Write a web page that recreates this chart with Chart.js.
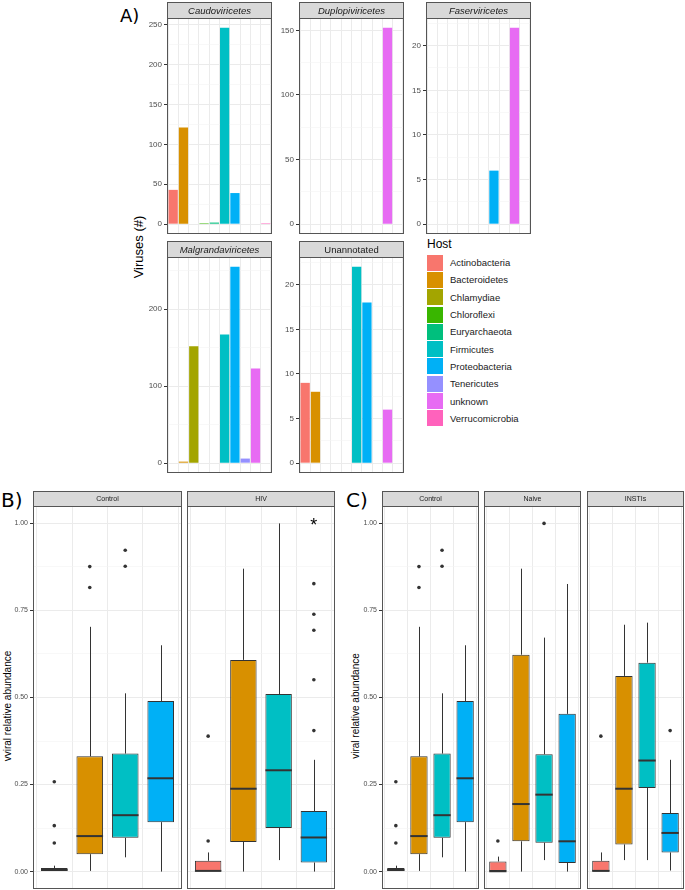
<!DOCTYPE html>
<html>
<head>
<meta charset="utf-8">
<script src="https://cdn.jsdelivr.net/npm/chart.js@4.4.1/dist/chart.umd.min.js"></script>
<style>
  body { margin: 0; background: #fff; width: 685px; height: 890px; position: relative; overflow: hidden;
         font-family: "Liberation Sans", Arial, sans-serif; }
  .tag { position: absolute; font-family: "DejaVu Sans", sans-serif; color: #000; line-height: 1; }
  .ytitle { position: absolute; transform: translate(-50%, -50%) rotate(-90deg); white-space: nowrap; color: #000; }
  #legend { position: absolute; left: 427px; top: 237px; color: #1A1A1A; }
  #legend .ttl { font-size: 12px; margin-bottom: 3px; color: #000; }
  #legend .row { display: flex; align-items: center; height: 17.3px; font-size: 9.5px; }
  #legend .key { width: 16px; height: 16px; margin-right: 7px; }
</style>
</head>
<body>

<div class="tag" style="left:120px;top:7px;font-size:18px;">A)</div>
<div class="tag" style="left:1px;top:490px;font-size:20px;">B)</div>
<div class="tag" style="left:346px;top:490px;font-size:20px;">C)</div>
<div class="ytitle" style="left:138px;top:247px;font-size:13px;">Viruses (#)</div>
<div class="ytitle" style="left:7px;top:706px;font-size:10px;">vviral relative abundance</div>
<div class="ytitle" style="left:355px;top:706px;font-size:10px;">viral relative abundance</div>
<div id="legend"><div class="ttl">Host</div></div>

<script>
// ---- panel A: number of viruses per predicted host, one array per viral class ----
const hosts = ['Actinobacteria', 'Bacteroidetes', 'Chlamydiae', 'Chloroflexi', 'Euryarchaeota',
               'Firmicutes', 'Proteobacteria', 'Tenericutes', 'unknown', 'Verrucomicrobia'];
const hostColors = ['#F8766D', '#D89000', '#A3A500', '#39B600', '#00BF7D',
                    '#00BFC4', '#00B0F6', '#9590FF', '#E76BF3', '#FF62BC'];

const caudoviricetes     = [43, 121, null, 1, 2, 246, 39, null, null, 1];
const duplopiviricetes   = [null, null, null, null, null, null, null, null, 152, null];
const faserviricetes     = [null, null, null, null, null, null, 6, null, 22, null];
const malgrandaviricetes = [null, 2, 152, null, null, 167, 255, 6, 123, null];
const unannotated        = [9, 8, null, null, null, 22, 18, null, 6, null];

const caudoTicks = [0, 50, 100, 150, 200, 250];
const duploTicks = [0, 50, 100, 150];
const faserTicks = [0, 5, 10, 15, 20];
const malgrTicks = [0, 100, 200];
const unannTicks = [0, 5, 10, 15, 20];

// ---- panels B/C: viral relative abundance boxplots ----
// each box: [lower whisker, q1, median, q3, upper whisker]
const boxHosts  = ['Actinobacteria', 'Bacteroidetes', 'Firmicutes', 'Proteobacteria'];
const boxColors = ['#F8766D', '#D89000', '#00BFC4', '#00B0F6'];

const controlBoxes    = [[0, 0, 0.005, 0.01, 0.017], [0.002, 0.05, 0.102, 0.331, 0.703],
                         [0.041, 0.097, 0.162, 0.339, 0.512], [0, 0.142, 0.268, 0.49, 0.65]];
const controlOutliers = [[0.258, 0.132, 0.082], [0.876, 0.816], [0.923, 0.877], []];

const hivBoxes    = [[0, 0, 0.002, 0.031, 0.055], [0, 0.085, 0.238, 0.608, 0.87],
                     [0.033, 0.125, 0.291, 0.51, 1.0], [0, 0.026, 0.098, 0.174, 0.321]];
const hivOutliers = [[0.088, 0.389], [], [], [0.827, 0.739, 0.693, 0.551, 0.405]];

const naiveBoxes    = [[0, 0, 0.001, 0.029, 0.043], [0, 0.087, 0.194, 0.623, 0.87],
                       [0.033, 0.083, 0.221, 0.337, 0.672], [0, 0.025, 0.087, 0.453, 0.826]];
const naiveOutliers = [[0.088], [], [1.0], []];

const instiBoxes    = [[0, 0, 0.002, 0.031, 0.055], [0.033, 0.078, 0.238, 0.562, 0.709],
                       [0.033, 0.24, 0.319, 0.6, 0.715], [0.003, 0.055, 0.111, 0.168, 0.321]];
const instiOutliers = [[0.389], [], [], [0.405]];

const abundanceTicks = [0, 0.25, 0.5, 0.75, 1];
const hivSignificant = ['Proteobacteria'];   // marked with *

Chart.defaults.font.family = '"Liberation Sans", Arial, sans-serif';
Chart.defaults.animation = false;
Chart.defaults.events = [];
Chart.defaults.plugins.legend.display = false;
Chart.defaults.plugins.tooltip.enabled = false;

// legend
const legend = document.getElementById('legend');
hosts.forEach((h, i) => {
  const r = document.createElement('div');
  r.className = 'row';
  r.innerHTML = '<div class="key" style="background:' + hostColors[i] + '"></div><span>' + h + '</span>';
  legend.appendChild(r);
});

// scales report label overhang as padding, which shrinks the plot area; drop it
function noPad(s) {
  s.paddingTop = 0; s.paddingBottom = 0; s.paddingLeft = 0; s.paddingRight = 0;
}

function yScale(major, lo, hi, axisW, size, fmt) {
  const step = major[1] - major[0];
  const all = major.slice();
  for (let i = 0; i < major.length - 1; i++) all.push((major[i] + major[i + 1]) / 2);
  if (major[major.length - 1] + step / 2 <= hi) all.push(major[major.length - 1] + step / 2);
  if (major[0] - step / 2 >= lo) all.push(major[0] - step / 2);
  all.sort((a, b) => a - b);
  const isMajor = v => major.some(m => Math.abs(m - v) < 1e-9);
  return {
    type: 'linear', min: lo, max: hi,
    afterBuildTicks: s => { s.ticks = all.map(v => ({ value: v })); },
    afterFit: s => { s.width = axisW; noPad(s); },
    border: { display: false },
    grid: {
      color: c => isMajor(c.tick.value) ? '#EBEBEB' : '#F4F4F4',
      lineWidth: c => isMajor(c.tick.value) ? 1 : 0.6,
      tickColor: c => isMajor(c.tick.value) ? '#333' : 'rgba(0,0,0,0)',
      tickLength: 3,
      drawTicks: axisW > 0
    },
    ticks: {
      display: axisW > 0, autoSkip: false, padding: 2, color: '#4D4D4D', font: { size: size },
      callback: v => isMajor(v) ? fmt(v) : ''
    }
  };
}

function xScale(n) {
  return {
    type: 'linear', min: 0.4, max: n + 0.6, offset: false,
    afterBuildTicks: s => { s.ticks = Array.from({ length: n }, (_, i) => ({ value: i + 1 })); },
    afterFit: s => { s.height = 0; noPad(s); },
    border: { display: false },
    grid: { color: '#EBEBEB', lineWidth: 1, drawTicks: false },
    ticks: { display: false }
  };
}

function facetPlugin(title, italic, size) {
  return {
    id: 'facet',
    afterDraw(chart) {
      const { ctx, chartArea: a } = chart;
      ctx.save();
      ctx.strokeStyle = '#555';
      ctx.lineWidth = 1;
      ctx.strokeRect(a.left + 0.5, a.top + 0.5, a.right - a.left - 1, a.bottom - a.top - 1);
      ctx.fillStyle = '#D9D9D9';
      ctx.fillRect(a.left + 0.5, 0.5, a.right - a.left - 1, a.top);
      ctx.strokeRect(a.left + 0.5, 0.5, a.right - a.left - 1, a.top);
      ctx.fillStyle = '#1A1A1A';
      ctx.font = (italic ? 'italic ' : '') + size + 'px "Liberation Sans", Arial, sans-serif';
      ctx.textAlign = 'center';
      ctx.textBaseline = 'middle';
      ctx.fillText(title, (a.left + a.right) / 2, a.top / 2 + 1);
      ctx.restore();
    }
  };
}

function makeCanvas(p) {
  const cv = document.createElement('canvas');
  const w = p.axisW + (p.plotRight - p.plotLeft);
  const h = p.plotBottom - p.stripTop;
  cv.width = w;
  cv.height = h;
  cv.style.cssText = 'position:absolute;left:' + (p.plotLeft - p.axisW) + 'px;top:' + p.stripTop +
                     'px;width:' + w + 'px;height:' + h + 'px';
  document.body.appendChild(cv);
  return cv;
}

// ---- panel A ----
const barPanels = [
  { title: 'Caudoviricetes', italic: true, values: caudoviricetes, ticks: caudoTicks,
    plotLeft: 167, plotRight: 272, stripTop: 2, plotTop: 18, plotBottom: 234 },
  { title: 'Duplopiviricetes', italic: true, values: duplopiviricetes, ticks: duploTicks,
    plotLeft: 299, plotRight: 404, stripTop: 2, plotTop: 18, plotBottom: 234 },
  { title: 'Faserviricetes', italic: true, values: faserviricetes, ticks: faserTicks,
    plotLeft: 426, plotRight: 531, stripTop: 2, plotTop: 18, plotBottom: 234 },
  { title: 'Malgrandaviricetes', italic: true, values: malgrandaviricetes, ticks: malgrTicks,
    plotLeft: 167, plotRight: 272, stripTop: 241, plotTop: 257, plotBottom: 473 },
  { title: 'Unannotated', italic: false, values: unannotated, ticks: unannTicks,
    plotLeft: 299, plotRight: 404, stripTop: 241, plotTop: 257, plotBottom: 473 }
];

barPanels.forEach(p => {
  p.axisW = 26;
  const cv = makeCanvas(p);
  const top = Math.max(...p.values.filter(v => v !== null));
  new Chart(cv, {
    type: 'bar',
    data: {
      datasets: [{
        data: p.values.map((v, i) => ({ x: i + 1, y: v })),
        backgroundColor: hostColors,
        borderWidth: 0,
        minBarLength: 1,
        barPercentage: 0.9,
        categoryPercentage: 1
      }]
    },
    options: {
      responsive: false,
      maintainAspectRatio: false,
      layout: { autoPadding: false, padding: { top: p.plotTop - p.stripTop, left: 0, right: 0, bottom: 0 } },
      scales: {
        x: xScale(hosts.length),
        y: yScale(p.ticks, -top * 0.05, top * 1.05, p.axisW, 8, v => String(v))
      }
    },
    plugins: [facetPlugin(p.title, p.italic, 9.5)]
  });
});

// ---- panels B and C ----
const boxPanels = [
  { title: 'Control', boxes: controlBoxes, outliers: controlOutliers, axisW: 22, plotLeft: 33, plotRight: 182 },
  { title: 'HIV', boxes: hivBoxes, outliers: hivOutliers, marks: hivSignificant, axisW: 0, plotLeft: 187, plotRight: 335 },
  { title: 'Control', boxes: controlBoxes, outliers: controlOutliers, axisW: 22, plotLeft: 382, plotRight: 479 },
  { title: 'Naive', boxes: naiveBoxes, outliers: naiveOutliers, axisW: 0, plotLeft: 484, plotRight: 581 },
  { title: 'INSTIs', boxes: instiBoxes, outliers: instiOutliers, axisW: 0, plotLeft: 587, plotRight: 684 }
];

boxPanels.forEach(p => {
  p.stripTop = 491; p.plotTop = 506; p.plotBottom = 889;
  const cv = makeCanvas(p);
  const outlierPts = [];
  p.outliers.forEach((arr, i) => arr.forEach(v => outlierPts.push({ x: i + 1, y: v })));
  const boxParts = {
    id: 'boxParts',
    afterDatasetsDraw(chart) {
      const { ctx, scales: { x, y } } = chart;
      const bars = chart.getDatasetMeta(0).data;
      ctx.save();
      ctx.strokeStyle = '#333';
      p.boxes.forEach((b, i) => {
        const cx = Math.round(x.getPixelForValue(i + 1)) + 0.5;
        const hw = bars[i].width / 2;
        ctx.lineWidth = 1;
        ctx.beginPath();
        ctx.moveTo(cx, y.getPixelForValue(b[3]));
        ctx.lineTo(cx, y.getPixelForValue(b[4]));
        ctx.moveTo(cx, y.getPixelForValue(b[0]));
        ctx.lineTo(cx, y.getPixelForValue(b[1]));
        ctx.stroke();
        const my = y.getPixelForValue(b[2]);
        ctx.lineWidth = 2;
        ctx.beginPath();
        ctx.moveTo(bars[i].x - hw, my);
        ctx.lineTo(bars[i].x + hw, my);
        ctx.stroke();
      });
      (p.marks || []).forEach(h => {
        const i = boxHosts.indexOf(h);
        ctx.fillStyle = '#000';
        ctx.font = '18px "Liberation Sans", Arial, sans-serif';
        ctx.textAlign = 'center';
        ctx.textBaseline = 'middle';
        ctx.fillText('*', x.getPixelForValue(i + 1), y.getPixelForValue(1) + 3);
      });
      ctx.restore();
    }
  };
  new Chart(cv, {
    type: 'bar',
    data: {
      datasets: [{
        data: p.boxes.map((b, i) => ({ x: i + 1, y: [b[1], b[3]] })),
        backgroundColor: boxColors,
        borderColor: '#333',
        borderWidth: 1,
        borderSkipped: false,
        barPercentage: 0.75,
        categoryPercentage: 1
      }, {
        type: 'scatter',
        data: outlierPts,
        pointRadius: 1.8,
        pointBackgroundColor: '#333',
        pointBorderWidth: 0
      }]
    },
    options: {
      responsive: false,
      maintainAspectRatio: false,
      layout: { autoPadding: false, padding: { top: p.plotTop - p.stripTop, left: 0, right: 0, bottom: 0 } },
      scales: {
        x: xScale(boxHosts.length),
        y: yScale(abundanceTicks, -0.05, 1.05, p.axisW, 7, v => v.toFixed(2))
      }
    },
    plugins: [boxParts, facetPlugin(p.title, false, 7)]
  });
});
</script>
</body>
</html>
